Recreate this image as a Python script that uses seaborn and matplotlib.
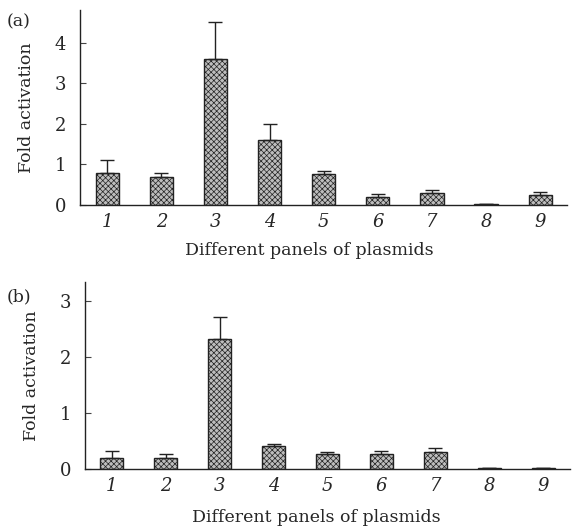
import numpy as np
import pandas as pd
import matplotlib
matplotlib.use("Agg")
import matplotlib.pyplot as plt
import seaborn as sns

categories = ["1", "2", "3", "4", "5", "6", "7", "8", "9"]
values_a = [0.80, 0.70, 3.60, 1.60, 0.76, 0.20, 0.30, 0.02, 0.24]
upper_a = [1.10, 0.80, 4.50, 2.00, 0.84, 0.27, 0.36, 0.03, 0.33]
values_b = [0.20, 0.20, 2.32, 0.42, 0.27, 0.27, 0.30, 0.01, 0.01]
upper_b = [0.32, 0.27, 2.72, 0.44, 0.30, 0.33, 0.37, 0.015, 0.015]
yticks_a = [0, 1, 2, 3, 4]
yticks_b = [0, 1, 2, 3]
xlabel = "Different panels of plasmids"
ylabel = "Fold activation"

sns.set_theme(style="white")
plt.rcParams["font.family"] = ["DejaVu Serif"]
plt.rcParams["hatch.linewidth"] = 0.5

fig = plt.figure(figsize=(5.77, 5.27), dpi=100)
ax_a = fig.add_axes([0.139, 0.611, 0.844, 0.370])
ax_b = fig.add_axes([0.147, 0.110, 0.841, 0.355])


def draw(ax, vals, ups, yticks, ymax):
    df = pd.DataFrame({"cat": categories, "val": vals})
    sns.barplot(data=df, x="cat", y="val", ax=ax, color="#bdbdbd",
                width=0.43, edgecolor="#222222", linewidth=1.0,
                saturation=1)
    for p in ax.patches:
        p.set_hatch("xxxxxx")
        if hasattr(p, "set_hatchcolor"):
            p.set_hatchcolor("#8f8f8f")
    pos = np.arange(len(categories))
    err = np.array(ups) - np.array(vals)
    ax.errorbar(pos, vals, yerr=[np.zeros_like(err), err], fmt="none",
                ecolor="#222222", elinewidth=1.0, capsize=5, capthick=1.0)
    ax.set_xlim(-0.5, 8.5)
    ax.set_ylim(0, ymax)
    ax.set_yticks(yticks)
    ax.set_yticklabels([str(t) for t in yticks], fontsize=13)
    ax.set_xticks(pos)
    ax.set_xticklabels(categories, fontsize=13, style="italic")
    ax.tick_params(axis="x", length=0, pad=6)
    ax.tick_params(axis="y", length=4, width=0.8, direction="in", pad=10,
                   left=True, color="#444444")
    ax.set_xlabel(xlabel, fontsize=12.5, labelpad=8)
    ax.set_ylabel(ylabel, fontsize=12.5, labelpad=14)
    for s in ["top", "right"]:
        ax.spines[s].set_visible(False)
    for s in ["left", "bottom"]:
        ax.spines[s].set_color("#222222")
        ax.spines[s].set_linewidth(1.0)


draw(ax_a, values_a, upper_a, yticks_a, 4.8)
draw(ax_b, values_b, upper_b, yticks_b, 3.35)
for ax, xc, yc in [(ax_a, 0.47, -0.19), (ax_b, 0.478, -0.215)]:
    ax.xaxis.set_label_coords(xc, yc)

fig.text(0.012, 0.975, "(a)", fontsize=12.5, va="top", ha="left")
fig.text(0.012, 0.452, "(b)", fontsize=12.5, va="top", ha="left")

fig.savefig("out.png", dpi=100)
